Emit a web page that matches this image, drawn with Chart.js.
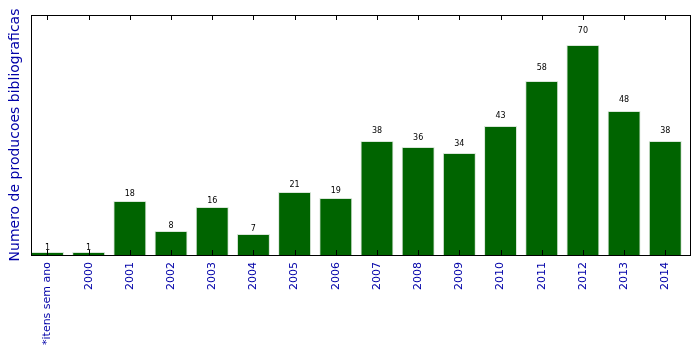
<!DOCTYPE html>
<html>
<head>
<meta charset="utf-8">
<script src="https://cdn.jsdelivr.net/npm/chart.js@4/dist/chart.umd.min.js"></script>
<style>
html, body { margin: 0; padding: 0; background: #fff; }
#wrap { width: 699px; height: 354px; }
</style>
</head>
<body>
<div id="wrap"><canvas id="prodChart" width="699" height="354"></canvas></div>
<script>
var anos = ["*itens sem ano", "2000", "2001", "2002", "2003", "2004", "2005", "2006", "2007", "2008", "2009", "2010", "2011", "2012", "2013", "2014"];
var producoes = [1, 1, 18, 8, 16, 7, 21, 19, 38, 36, 34, 43, 58, 70, 48, 38];
var yMax = 80;

var azul = "#0000a8";

// valores em cima das barras + moldura + ticks para dentro
var extras = {
	id: 'extras',
	afterDatasetsDraw: function(chart){
		var ctx = chart.ctx;
		var xs = chart.scales.x, ys = chart.scales.y;
		var area = chart.chartArea;
		ctx.save();
		ctx.fillStyle = "#000";
		ctx.font = "8px 'DejaVu Sans'";
		ctx.textAlign = "center";
		ctx.textBaseline = "bottom";
		for(let i=0;i<producoes.length;i++){
			ctx.fillText(String(producoes[i]), xs.getPixelForValue(i), ys.getPixelForValue(producoes[i]*1.05));
		}
		ctx.strokeStyle = "#000";
		ctx.lineWidth = 1;
		ctx.beginPath();
		for(let i=0;i<anos.length;i++){
			let px = Math.round(xs.getPixelForValue(i)) + 0.5;
			ctx.moveTo(px, area.bottom);
			ctx.lineTo(px, area.bottom - 5);
			ctx.moveTo(px, area.top);
			ctx.lineTo(px, area.top + 5);
		}
		ctx.stroke();
		ctx.strokeRect(Math.round(area.left)+0.5, Math.round(area.top)+0.5, Math.round(area.right-area.left), Math.round(area.bottom-area.top));
		ctx.restore();
	}
};

var pontos = producoes.map(function(v, i){ return {x: i, y: v}; });

new Chart(document.getElementById("prodChart"), {
	type: 'bar',
	data: {
		datasets: [{
			data: pontos,
			backgroundColor: "#006400",
			borderColor: "#d9e6d9",
			borderWidth: 1,
			barPercentage: 0.8,
			categoryPercentage: 1.0
		}]
	},
	options: {
		responsive: false,
		animation: false,
		layout: { padding: { top: 15, right: 9, left: 0, bottom: 0 } },
		plugins: { legend: { display: false }, tooltip: { enabled: false } },
		scales: {
			x: {
				type: 'linear',
				offset: false,
				min: -0.4,
				max: 15.6,
				grid: { display: false, drawTicks: false, offset: false },
				border: { display: false },
				afterBuildTicks: function(scale){
					scale.ticks = anos.map(function(_, i){ return {value: i}; });
				},
				afterFit: function(scale){ scale.height = 99; },
				ticks: {
					autoSkip: false,
					minRotation: 90,
					maxRotation: 90,
					padding: 7,
					color: azul,
					font: { family: "'DejaVu Sans'", size: 11 },
					callback: function(v){ return anos[v]; }
				}
			},
			y: {
				min: 0,
				max: yMax,
				grid: { display: false, drawTicks: false },
				border: { display: false },
				ticks: { display: false },
				afterFit: function(scale){ scale.width = 31; },
				title: {
					display: true,
					text: "Numero de producoes bibliograficas",
					color: azul,
					font: { family: "'DejaVu Sans'", size: 14 },
					padding: { top: 7, bottom: 0 }
				}
			}
		}
	},
	plugins: [extras]
});
</script>
</body>
</html>
